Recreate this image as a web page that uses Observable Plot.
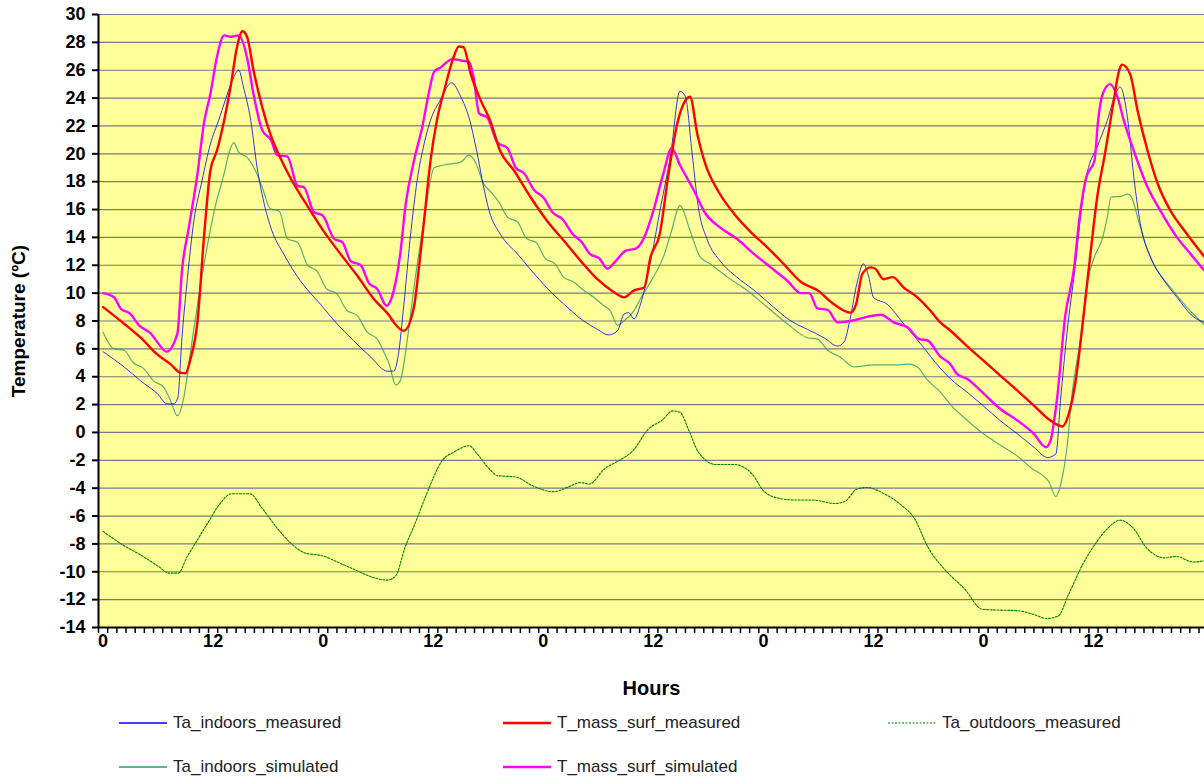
<!DOCTYPE html>
<html><head><meta charset="utf-8">
<script src="https://cdn.jsdelivr.net/npm/d3@7"></script>
<script src="https://cdn.jsdelivr.net/npm/@observablehq/plot@0.6"></script>
<style>
body{margin:0;background:#fff;font-family:"Liberation Sans",Arial,sans-serif;}
#wrap{position:relative;width:1204px;height:780px;overflow:hidden;}
#chart svg{display:block;}
.leg{position:absolute;display:flex;align-items:center;font-size:17px;color:#222;height:20px;white-space:nowrap;font-family:"Liberation Sans",Arial,sans-serif;}
.leg svg{margin-right:6px;display:block;}
</style></head><body>
<div id="wrap"><div id="chart"></div><div id="legend"></div></div>
<script>
// ---- data: [hour, temperature °C] ----
const taIndoorsMeasured = [[0,5.8],[2.3,4.7],[4.1,3.7],[5.9,2.8],[7.0,2.05],[7.7,2.05],[8.15,2.5],[8.6,6.8],[9.2,11.1],[9.9,15.2],[10.8,18.1],[11.7,20.7],[12.6,22.4],[13.3,23.8],[14.1,25.3],[14.8,26.0],[15.3,24.8],[16.1,22.4],[16.8,19.0],[17.5,16.6],[18.4,14.5],[19.7,12.8],[21.5,10.9],[23.7,9.2],[25.5,7.8],[27.3,6.6],[29.2,5.4],[31.0,4.4],[31.7,4.4],[32.2,5.6],[32.8,9.2],[33.5,14.0],[34.25,18.1],[35.0,20.7],[35.7,22.4],[36.8,23.9],[38.0,25.1],[39.0,24.1],[39.9,22.6],[40.8,20.0],[41.5,17.6],[42.1,15.9],[43.3,14.25],[45.2,12.8],[47.0,11.4],[48.8,10.1],[50.6,9.0],[52.4,8.0],[53.9,7.4],[55.1,7.0],[56.1,7.3],[56.8,8.5],[57.3,8.6],[57.9,8.15],[58.6,9.2],[59.7,12.3],[60.8,16.2],[61.9,20.0],[62.9,24.5],[63.5,24.1],[64.2,20.2],[64.9,16.2],[65.9,13.8],[67.3,12.3],[69.1,11.15],[71.0,10.2],[73.1,9.0],[75.0,8.0],[76.8,7.4],[78.6,6.8],[80.1,6.2],[80.8,6.5],[81.5,8.3],[82.2,10.7],[82.9,12.1],[83.5,11.15],[84.0,9.7],[85.5,9.2],[87.3,7.8],[89.1,6.4],[91.3,4.6],[92.4,3.85],[94.2,2.9],[96.0,1.9],[97.8,0.86],[99.7,-0.1],[101.5,-1.06],[103.0,-1.8],[103.9,-1.54],[104.4,2.3],[105.1,7.1],[106.0,11.9],[106.8,16.65],[107.3,18.6],[108.4,20.5],[109.5,22.4],[110.4,24.3],[110.9,24.8],[111.7,22.6],[112.4,18.3],[113.1,15.0],[114.2,12.6],[115.7,10.9],[117.1,9.7],[118.9,8.3],[120.1,7.9]];

const taIndoorsSimulated = [[0,7.2],[1.2,6.0],[2.3,5.9],[3.3,5.0],[4.4,4.6],[5.5,3.7],[6.6,3.25],[7.35,2.3],[8.1,1.2],[8.8,2.5],[9.5,5.6],[10.3,9.2],[11.2,12.8],[12.3,16.4],[13.2,18.6],[13.7,20.0],[14.25,20.8],[14.8,20.1],[15.7,19.75],[16.6,18.8],[17.35,17.6],[18.25,16.05],[19.2,15.9],[20.1,13.9],[21.2,13.65],[22.3,12.0],[23.3,11.6],[24.4,10.3],[25.5,9.95],[26.6,8.75],[27.7,8.4],[28.8,7.2],[29.9,6.7],[30.6,5.8],[31.2,4.9],[31.9,3.4],[32.4,3.7],[33.2,6.8],[33.9,10.4],[35.0,15.2],[36.1,19.0],[37.2,19.2],[39.0,19.4],[39.9,19.9],[40.6,19.4],[41.5,17.85],[42.3,17.25],[43.2,16.5],[44.1,15.45],[45.2,15.1],[46.2,13.9],[47.2,13.65],[48.2,12.5],[49.3,12.1],[50.2,11.15],[51.3,10.8],[52.4,10.2],[53.5,9.7],[54.6,9.1],[55.3,8.75],[56.1,7.7],[56.8,8.0],[57.9,8.75],[58.6,9.6],[60.0,11.15],[61.1,12.6],[62.0,14.5],[62.9,16.3],[64.0,14.5],[65.1,12.6],[66.2,12.1],[68.1,11.15],[70.2,10.2],[72.4,9.0],[74.6,7.8],[76.8,6.8],[77.9,6.7],[79.0,5.9],[80.4,5.4],[81.9,4.7],[84.0,4.85],[86.2,4.85],[87.9,4.9],[88.8,4.7],[89.9,3.75],[91.3,2.9],[92.4,2.0],[94.0,1.0],[96.0,-0.1],[97.8,-0.9],[99.7,-1.7],[101.3,-2.6],[102.5,-3.1],[103.1,-3.5],[103.9,-4.6],[104.5,-3.5],[105.1,-1.1],[105.7,3.0],[106.6,6.8],[107.3,10.7],[108.1,12.6],[109.0,14.0],[109.5,15.45],[109.9,16.9],[111.0,16.95],[111.7,17.1],[112.2,16.8],[112.8,15.45],[113.9,13.05],[115.0,11.6],[116.4,10.4],[117.9,9.2],[120.1,7.7]];

const tMassSurfMeasured = [[0,9.0],[2.3,7.8],[4.1,6.8],[5.9,5.6],[7.35,4.9],[8.4,4.3],[9.0,4.25],[9.5,5.2],[10.3,8.0],[11.0,14.0],[11.7,18.8],[12.4,20.2],[13.2,22.4],[13.9,24.8],[14.6,27.65],[15.2,28.8],[15.7,28.4],[16.4,26.0],[17.35,23.35],[18.25,21.4],[19.3,19.75],[20.4,18.3],[21.9,16.65],[24.1,14.4],[25.9,12.8],[27.7,11.26],[29.5,9.6],[31.3,8.3],[31.7,7.9],[32.8,7.3],[33.9,9.0],[34.4,11.6],[35.0,15.2],[35.7,19.5],[36.4,22.4],[37.3,24.8],[38.1,26.7],[38.8,27.7],[39.3,27.65],[40.1,25.7],[41.2,23.8],[42.2,22.4],[43.3,20.2],[44.8,18.8],[46.6,16.9],[48.4,15.2],[50.2,13.8],[52.1,12.3],[53.9,11.0],[55.7,10.07],[56.8,9.7],[57.9,10.2],[59.0,10.4],[59.7,12.6],[60.7,14.25],[61.6,18.3],[62.6,22.15],[63.3,23.6],[64.0,24.1],[64.8,21.4],[65.7,19.2],[67.0,17.4],[68.8,15.7],[70.6,14.4],[72.4,13.3],[74.2,12.1],[76.1,10.8],[77.9,10.2],[79.7,9.2],[81.5,8.6],[82.1,9.2],[82.8,11.4],[83.7,11.85],[84.2,11.75],[85.1,11.0],[86.1,11.15],[87.3,10.4],[88.8,9.7],[90.2,8.75],[91.3,7.9],[92.4,7.3],[94.2,6.2],[96.0,5.16],[97.8,4.1],[99.7,3.0],[101.5,1.93],[103.3,0.86],[104.6,0.43],[105.3,1.34],[106.0,3.5],[106.9,8.3],[107.7,13.05],[108.4,16.9],[109.3,20.2],[110.2,23.8],[110.8,26.0],[111.1,26.4],[112.0,25.7],[112.8,23.1],[113.9,20.2],[115.0,17.85],[116.4,15.9],[117.9,14.5],[120.1,12.6]];

const tMassSurfSimulated = [[0,10.0],[1.2,9.7],[1.9,8.9],[3.0,8.5],[3.9,7.7],[5.2,7.1],[5.9,6.5],[6.9,5.8],[8.1,7.1],[8.6,11.6],[9.35,14.7],[10.3,18.6],[11.0,22.2],[11.7,24.3],[12.4,26.9],[13.2,28.5],[13.9,28.4],[14.8,28.5],[15.7,26.9],[16.4,24.3],[17.35,21.7],[18.3,21.0],[19.0,19.9],[20.1,19.8],[21.2,17.7],[21.9,17.6],[23.0,15.8],[23.9,15.6],[25.2,13.9],[26.1,13.65],[27.0,12.3],[28.1,12.0],[29.0,10.7],[29.9,10.3],[30.9,9.1],[31.7,10.2],[32.4,12.8],[33.0,16.4],[33.9,19.5],[34.8,21.9],[35.5,24.3],[36.1,25.9],[36.8,26.2],[38.1,26.8],[39.0,26.7],[39.9,26.6],[40.4,25.5],[41.0,22.9],[41.9,22.6],[43.0,20.8],[44.1,20.4],[45.0,19.0],[45.9,18.6],[47.0,17.4],[48.1,16.8],[49.0,15.8],[50.1,15.3],[51.2,14.25],[52.2,13.65],[53.1,12.8],[54.1,12.5],[55.0,11.75],[55.9,12.3],[57.0,13.05],[58.1,13.2],[59.0,14.0],[60.0,15.9],[61.1,18.6],[62.0,20.4],[62.9,19.2],[64.4,17.4],[65.7,15.7],[67.3,14.7],[69.1,13.9],[71.0,12.8],[72.8,11.85],[74.6,10.9],[76.1,10.0],[77.0,10.0],[77.9,8.9],[79.0,8.8],[80.1,7.9],[81.5,8.0],[83.3,8.3],[84.8,8.45],[86.2,7.9],[87.7,7.55],[89.0,6.7],[89.9,6.6],[91.3,5.45],[92.4,4.9],[93.1,4.2],[94.2,3.85],[96.0,2.8],[97.8,1.7],[99.7,0.86],[101.5,-0.1],[102.8,-1.06],[103.3,-0.6],[104.0,2.3],[104.9,8.3],[105.9,11.9],[106.4,15.0],[107.2,18.3],[108.1,19.5],[108.5,22.4],[109.0,24.3],[109.8,25.0],[110.6,24.1],[111.3,22.4],[112.4,20.2],[113.9,17.6],[115.3,15.9],[117.1,14.0],[118.6,12.8],[120.1,11.6]];

const taOutdoorsMeasured = [[0,-7.1],[2.1,-8.05],[4.1,-8.8],[6.0,-9.6],[7.2,-10.1],[8.2,-10.1],[9.1,-9.0],[10.3,-7.7],[11.5,-6.4],[12.65,-5.2],[14.0,-4.4],[16.0,-4.4],[17.3,-5.4],[18.9,-6.8],[20.4,-7.9],[22.0,-8.65],[23.9,-8.85],[25.9,-9.4],[27.45,-9.85],[29.0,-10.3],[30.95,-10.6],[31.9,-10.3],[32.9,-8.3],[34.1,-6.4],[35.2,-4.55],[37.0,-2.0],[38.3,-1.4],[39.9,-0.95],[40.8,-1.55],[42.3,-2.75],[43.0,-3.1],[45.0,-3.2],[46.9,-3.85],[49.1,-4.25],[50.8,-3.9],[52.0,-3.6],[53.0,-3.7],[54.7,-2.6],[56.3,-2.0],[57.8,-1.3],[59.4,0.2],[61.0,0.9],[62.1,1.55],[62.9,1.45],[63.9,0.1],[64.9,-1.4],[66.8,-2.3],[68.8,-2.3],[70.8,-3.0],[71.9,-4.1],[73.5,-4.7],[75.5,-4.85],[77.4,-4.85],[79.8,-5.1],[81.0,-4.9],[82.1,-4.1],[83.3,-3.95],[85.3,-4.45],[87.2,-5.3],[88.4,-6.1],[90.0,-8.3],[92.0,-10.0],[93.9,-11.2],[95.9,-12.7],[97.8,-12.75],[99.8,-12.8],[101.4,-13.05],[102.9,-13.35],[104.1,-13.2],[105.3,-11.6],[106.8,-9.5],[108.4,-7.8],[109.6,-6.85],[110.9,-6.3],[112.3,-6.85],[113.8,-8.3],[115.8,-9.0],[117.0,-8.9],[118.9,-9.3],[120.1,-9.2]];

const yTicks = [-14,-12,-10,-8,-6,-4,-2,0,2,4,6,8,10,12,14,16,18,20,22,24,26,28,30];
const xLabelHours = [0,12,24,36,48,60,72,84,96,108];
const xLabelText = ["0","12","0","12","0","12","0","12","0","12"];
const hourCount = 121;

const seriesNames = ["Ta_indoors_measured","T_mass_surf_measured","Ta_outdoors_measured","Ta_indoors_simulated","T_mass_surf_simulated"];
const seriesColors = ["#0000FF","#FF0000","#008000","#339966","#FF00FF"];

// ---- build ----
const toRows = (arr) => arr.map(([hour, temp]) => ({hour, temp}));
const boundaries = d3.range(hourCount + 1).map(i => i - 0.5);
const lineOpts = {x: "hour", y: "temp", curve: "monotone-x", clip: true};

const chart = Plot.plot({
  width: 1204, height: 705,
  marginLeft: 98, marginRight: 0, marginTop: 14, marginBottom: 78,
  x: {domain: [-0.5, 120.1]},
  y: {domain: [-14, 30]},
  style: {fontFamily: "'Liberation Sans', Arial, sans-serif", background: "transparent", color: "#000"},
  marks: [
    Plot.frame({fill: "#FFFF99", stroke: null}),
    Plot.gridY(yTicks, {stroke: "#7a7a8a", strokeOpacity: 1, strokeWidth: 1.2}),
    Plot.line(toRows(taOutdoorsMeasured), {...lineOpts, stroke: seriesColors[2], strokeWidth: 1.1, strokeDasharray: "2,1.5"}),
    Plot.line(toRows(taIndoorsSimulated), {...lineOpts, stroke: seriesColors[3], strokeWidth: 1.2, strokeOpacity: 0.8}),
    Plot.line(toRows(taIndoorsMeasured), {...lineOpts, stroke: seriesColors[0], strokeWidth: 1, strokeOpacity: 0.8}),
    Plot.line(toRows(tMassSurfSimulated), {...lineOpts, stroke: seriesColors[4], strokeWidth: 2.4}),
    Plot.line(toRows(tMassSurfMeasured), {...lineOpts, stroke: seriesColors[1], strokeWidth: 2.4}),
    Plot.ruleX([-0.5], {stroke: "#000", strokeWidth: 2}),
    Plot.ruleY([-14], {stroke: "#000", strokeWidth: 2}),
    Plot.axisY({ticks: yTicks, tickSize: 6, tickPadding: 7, tickFormat: d => String(d), fontSize: 18, fontWeight: "bold", strokeWidth: 2, label: null}),
    Plot.axisX({ticks: boundaries, tickSize: 6, tickFormat: () => "", strokeWidth: 1.5, label: null}),
    Plot.axisX({ticks: xLabelHours, tickSize: 0, tickPadding: 7, tickFormat: (d) => xLabelText[xLabelHours.indexOf(d)], fontSize: 18, fontWeight: "bold", label: null}),
    Plot.text(["Temperature (ºC)"], {frameAnchor: "left", textAnchor: "middle", dx: -80, rotate: -90, fontSize: 19, fontWeight: "bold", fill: "#000"}),
    Plot.text(["Hours"], {frameAnchor: "bottom", dy: 67, fontSize: 20, fontWeight: "bold", fill: "#000"})
  ]
});
document.getElementById("chart").appendChild(chart);

// ---- legend (HTML below the SVG) ----
const legendItems = [
  {name: seriesNames[0], color: seriesColors[0], width: 1.5, dash: null, left: 119, top: 723},
  {name: seriesNames[1], color: seriesColors[1], width: 2.5, dash: null, left: 503, top: 723},
  {name: seriesNames[2], color: seriesColors[2], width: 1.2, dash: "2,1.5", left: 888, top: 723},
  {name: seriesNames[3], color: seriesColors[3], width: 1.5, dash: null, left: 119, top: 767},
  {name: seriesNames[4], color: seriesColors[4], width: 2.5, dash: null, left: 503, top: 767}
];
const legend = document.getElementById("legend");
for (const it of legendItems) {
  const div = document.createElement("div");
  div.className = "leg";
  div.style.left = it.left + "px";
  div.style.top = (it.top - 10) + "px";
  div.innerHTML = `<svg width="48" height="20"><line x1="0" x2="48" y1="10" y2="10" stroke="${it.color}" stroke-width="${it.width}" ${it.dash ? `stroke-dasharray="${it.dash}"` : ""}/></svg><span>${it.name}</span>`;
  legend.appendChild(div);
}
</script>
</body></html>
